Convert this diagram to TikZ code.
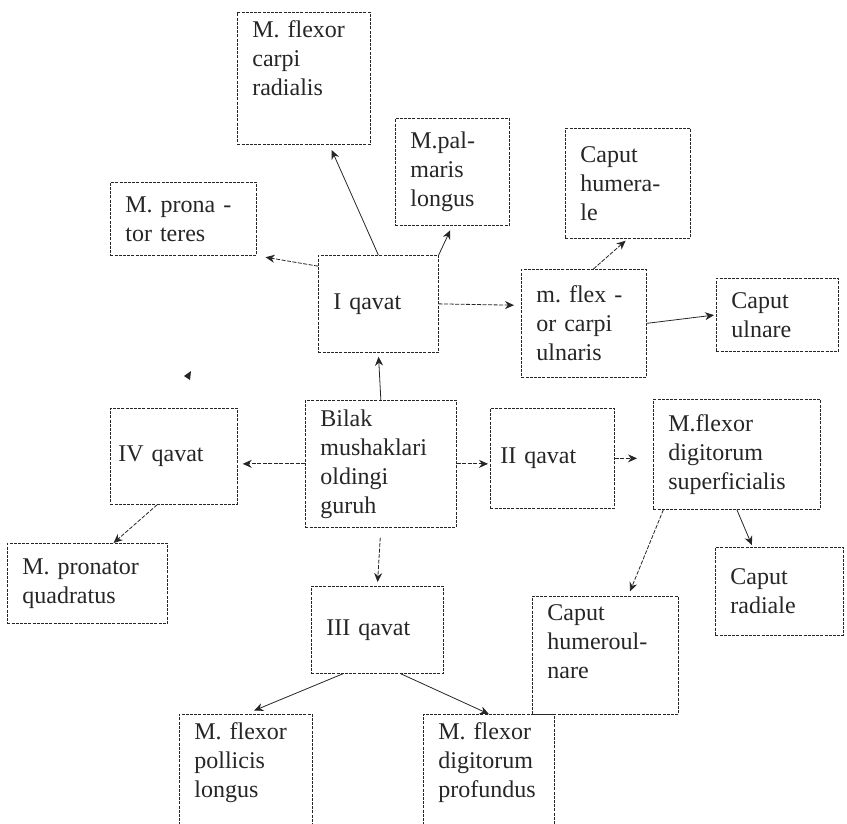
\documentclass[tikz,border=0pt]{standalone}
\usepackage{fontspec}
\setmainfont{Liberation Serif}
\usetikzlibrary{arrows.meta,calc}

\tikzset{
  quti/.style={draw,dash pattern=on 3pt off 1.2pt,line width=0.7pt,anchor=north west,
    align=left,inner xsep=15pt,inner ysep=8pt,font=\fontsize{24}{29}\selectfont\frenchspacing},
  oq/.style={->,line width=0.8pt},
  uzuq/.style={oq,dash pattern=on 4pt off 1.5pt},
}
\newcommand{\pastga}[1]{\rule[-#1]{0pt}{#1}}

\begin{document}
\begin{tikzpicture}[x=1pt,y=-1pt,>={Stealth[length=9pt,width=8pt]},black!85]
  \useasboundingbox (0,0) rectangle (847,823);
  \fill[white] (0,0) rectangle (847,823);
  \clip (0,0) rectangle (847,823);
  % I qavat
  \node[quti,text width=103pt] (fcr) at (237,12) {M. flexor\\carpi\\radialis\pastga{41pt}};
  \node[quti,text width=84pt,minimum height=107pt] (pal) at (395,118) {M.pal-\\maris\\longus};
  \node[quti,text width=95pt,minimum height=110pt] (hum) at (565,128) {Caput\\humera-\\le};
  \node[quti,text width=116pt,minimum height=73pt] (prona) at (110,182) {M. prona -\\tor teres};
  \node[quti,text width=90pt,minimum height=97pt] (iq) at (318,255) {I qavat};
  \node[quti,text width=95pt,minimum height=108pt] (mflex) at (521,269) {m. flex -\\or carpi\\ulnaris};
  \node[quti,text width=92pt,minimum height=73pt] (uln) at (716,278) {Caput\\ulnare};
  % markaz
  \node[quti,text width=121pt,minimum height=127pt] (bilak) at (305,400) {Bilak\\mushaklari\\oldingi\\guruh};
  % IV qavat
  \node[quti,inner xsep=8pt,text width=111pt,minimum height=96pt] (IV) at (110,408) {IV qavat};
  \node[quti,text width=130pt,minimum height=80pt] (pq) at (7,543) {M. pronator\\quadratus};
  % II qavat
  \node[quti,inner xsep=10pt,text width=104pt,minimum height=100pt] (II) at (490,408) {II qavat};
  \node[quti,text width=137pt,minimum height=110pt] (sup) at (653,399) {M.flexor\\digitorum\\superficialis};
  \node[quti,text width=98pt,minimum height=88pt] (rad) at (715,547) {Caput\\radiale};
  \node[quti,text width=116pt] (humul) at (532,596) {Caput\\humeroul-\\nare\pastga{28pt}};
  % III qavat
  \node[quti,text width=102pt,minimum height=87pt] (III) at (311,586) {III qavat};
  \node[quti,text width=103pt] (pol) at (179,714) {M. flexor\\pollicis\\longus\pastga{60pt}};
  \node[quti,text width=101pt] (prof) at (423,714) {M. flexor\\digitorum\\profundus\pastga{60pt}};

  % strelkalar
  \draw[oq,shorten >=6pt] (iq.north) -- (fcr.-69);
  \draw[oq,shorten >=5pt] (iq.north east) -- (pal.south);
  \draw[uzuq,shorten >=9pt] (iq.148) -- (prona.south east);
  \draw[uzuq,shorten >=7pt] (iq.east) -- (mflex.164);
  \draw[uzuq,shorten >=3pt] (mflex.80) -- (hum.south);
  \draw[oq,shorten >=2pt] (mflex.east) -- (uln.west);
  \draw[oq,shorten >=4pt] (bilak.north) -- (iq.south);
  \draw[uzuq,shorten >=5pt] (bilak.west) -- (bilak.west -| IV.east);
  \draw[uzuq,shorten >=2pt] (bilak.east) -- (bilak.east -| II.west);
  \draw[uzuq,shorten <=10pt,shorten >=4pt] (bilak.south) -- (III.north);
  \draw[uzuq] (IV.-109) -- (pq.57);
  \draw[uzuq,shorten >=16pt] (II.east) -- (II.east -| sup.west);
  \draw[uzuq,shorten >=5pt] (sup.-143) -- (humul.69);
  \draw[oq,shorten >=2pt] (sup.south) -- (rad.121);
  \draw[oq,shorten >=9pt] (III.-128) -- (pol.north);
  \draw[oq] (III.-62) -- (prof.north);
  % dog'
  \fill (184,376) -- (191,371) -- (190,380) -- cycle;
\end{tikzpicture}
\end{document}
